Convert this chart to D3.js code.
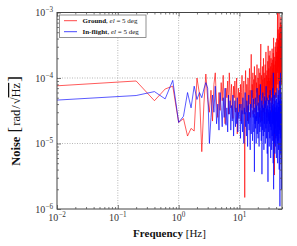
<!DOCTYPE html>
<html>
<head>
<meta charset="utf-8">
<script src="https://cdn.jsdelivr.net/npm/d3@7"></script>
<style>
  body { margin: 0; background: #fff; }
  text { font-family: "Liberation Serif", "DejaVu Serif", serif; }
</style>
</head>
<body>
<div id="chart"></div>
<script>
// PSD bins: first bin near 0.01 Hz, then every 0.2 Hz up to 50 Hz
const firstFreq = 0.01;
const freqStep = 0.2;

// Noise in units of 1e-5 rad/sqrt(Hz)
const ground = [
  7.6, 9.0, 4.5, 6.8, 7.5, 2.1, 2.4, 1.3, 1.7, 1.55,
  10, 5.7, 0.75, 4.0, 11.5, 4.7, 3.0, 6.5, 2.2, 8.0,
  12, 4.0, 2.5, 6.0, 3.2, 8.5, 4.5, 11, 3.5, 2.0,
  7.0, 5.0, 9.0, 2.8, 12, 6.0, 3.5, 8.0, 4.5, 2.4,
  7.5, 5.0, 9.0, 3.0, 6.5, 10, 1.4, 4.5, 7.0, 3.0,
  6.0,
  3.5, 8, 2.2, 6, 11, 4, 2.8, 7, 9, 3,
  0.15, 5, 13, 6, 3, 8, 4.5, 2.2, 10, 5.5,
  3.2, 7.5, 14, 4, 6.5, 2.5, 9, 23, 6, 3.5,
  8, 5, 12, 2.8, 6, 9.5, 4, 15, 5.5, 3,
  7, 11, 4.2, 2.4, 8.5, 6, 16, 3.8, 7, 5,
  10, 3.2, 6.5, 14, 4.5, 8, 2.5, 12, 5.5, 9,
  18, 33, 7, 3.5, 11, 6, 2.2, 8.5, 15, 5,
  9.5, 3, 7, 20, 6, 4, 12, 8, 2.8, 10,
  5.5, 16, 7, 3.5, 9, 25, 6, 4, 11, 7.5,
  2.5, 13, 6, 9, 4.5, 18, 8, 31, 5, 10,
  4, 14, 7, 22, 5, 9, 3.5, 12, 26, 6,
  10, 4.5, 15, 8, 20, 5.5, 11, 3, 9, 17,
  7, 28, 6, 12, 4, 19, 9, 14, 5, 24,
  8, 41, 10, 6, 16, 4.5, 12, 0.33, 9, 21,
  7, 13, 30, 5, 11, 18, 8, 35, 6.5, 14,
  9, 25, 5, 16, 40, 10, 7, 22, 13, 45,
  98, 12, 30, 8, 18, 55, 11, 4, 26, 15,
  38, 9, 100, 20, 12, 48, 7, 28, 16, 60,
  10, 35, 5, 22, 70, 14, 30, 9, 45, 85,
  18, 12, 50, 25, 8, 40, 65, 15, 30, 47
];

const inflight = [
  4.6, 5.4, 6.2, 4.8, 9.2, 2.1, 2.6, 6.0, 3.5, 7.5,
  4.7, 6.0, 5.0, 6.8, 8.5, 7.0, 1.0, 2.5, 5.5, 3.0,
  7.5, 2.0, 4.0, 1.6, 6.0, 3.5, 1.8, 5.0, 2.5, 7.0,
  1.9, 3.5, 1.5, 5.5, 2.8, 4.5, 1.6, 3.8, 2.2, 5.5,
  1.3, 3.0, 4.5, 1.8, 3.5, 2.0, 5.0, 1.5, 3.0, 2.4,
  4.0,
  2.5, 1.2, 4, 2, 3.2, 1.5, 5, 2.2, 1.0, 3.5,
  2.8, 6, 1.8, 3, 1.3, 4.5, 2.4, 0.9, 3.8, 2,
  5.5, 1.6, 3, 2.2, 0.8, 4, 2.6, 1.4, 3.5, 6.5,
  2, 1.1, 3.2, 2.5, 4.8, 1.5, 2.8, 0.37, 3.5, 2,
  5, 1.7, 2.6, 1, 3.8, 2.2, 7, 1.4, 3, 2.4,
  1.2, 4.2, 2, 3, 0.9, 5.5, 2.5, 1.5, 3.5, 2.1,
  8, 1.8, 3.2, 1.1, 2.7, 4.5, 0.34, 2.4, 3.8, 1.6,
  6, 2.2, 1.3, 3.5, 2.6, 0.8, 4, 2, 5.2, 1.5,
  3, 2.3, 1, 4.5, 2.8, 1.7, 7.5, 2.4, 1.2, 3.4,
  2, 5, 0.7, 2.9, 3.8, 1.4, 0.26, 3.3, 2.2, 4.6,
  1.5, 3, 2.4, 0.9, 5.5, 2, 3.6, 1.2, 2.8, 6.5,
  1.8, 3.2, 0.6, 2.5, 4.2, 1.6, 3, 2.2, 0.8, 5,
  2.6, 1.3, 3.8, 2, 7, 1.1, 3.4, 2.4, 0.5, 12,
  2.8, 0.2, 4, 1.9, 3.2, 1, 5.5, 2.3, 1.4, 3.6,
  0.7, 2.8, 4.5, 1.7, 3, 0.9, 6, 2.5, 1.2, 3.5,
  2, 0.6, 4.8, 2.4, 1.3, 3.8, 2.2, 7, 1, 3,
  2.6, 0.5, 4.2, 1.8, 3.3, 1.1, 5.5, 2.4, 0.8, 3.6,
  2, 6.5, 1.4, 3, 0.4, 4.5, 2.2, 1.6, 9, 2.8,
  0.11, 3.5, 1.9, 5, 1.2, 12, 2.6, 0.7, 4, 2.2,
  1.5, 6, 0.5, 3.2, 0.2, 4.5, 1.8, 3, 0.9, 2.5
];

const freqs = [firstFreq].concat(
  d3.range(1, ground.length).map((i) => +(i * freqStep).toFixed(1))
);

const xTickExps = [-2, -1, 0, 1];
const yTickExps = [-6, -5, -4, -3];

const seriesInfo = [
  { name: "Ground", values: ground, color: "#ff0000" },
  { name: "In-flight", values: inflight, color: "#0000ff" },
];

const W = 297;
const H = 246;
const margin = { top: 12.5, right: 15, bottom: 37, left: 57 };
const width = W - margin.left - margin.right;
const height = H - margin.top - margin.bottom;
const frameColor = "#444";

const svg = d3
  .select("#chart")
  .append("svg")
  .attr("width", W)
  .attr("height", H);

const g = svg
  .append("g")
  .attr("transform", `translate(${margin.left},${margin.top})`);

const x = d3.scaleLog().domain([0.01, 50]).range([0, width]);
const y = d3.scaleLog().domain([1e-6, 1e-3]).range([height, 0]);

const majorX = xTickExps.map((e) => Math.pow(10, e));
const majorY = yTickExps.map((e) => Math.pow(10, e));
const minorX = x.ticks().filter((v) => !majorX.some((m) => Math.abs(v / m - 1) < 1e-6));
const minorY = y.ticks().filter((v) => !majorY.some((m) => Math.abs(v / m - 1) < 1e-6));

// Grid
g.selectAll(".gx")
  .data(majorX.slice(1))
  .enter()
  .append("line")
  .attr("x1", (d) => x(d))
  .attr("x2", (d) => x(d))
  .attr("y1", 0)
  .attr("y2", height)
  .attr("stroke", "#9a9a9a")
  .attr("stroke-width", 0.7)
  .attr("stroke-dasharray", "1,1.5");

g.selectAll(".gy")
  .data(majorY.slice(1, -1))
  .enter()
  .append("line")
  .attr("x1", 0)
  .attr("x2", width)
  .attr("y1", (d) => y(d))
  .attr("y2", (d) => y(d))
  .attr("stroke", "#9a9a9a")
  .attr("stroke-width", 0.7)
  .attr("stroke-dasharray", "1,1.5");

// Data lines
g.append("clipPath")
  .attr("id", "clip")
  .append("rect")
  .attr("width", width)
  .attr("height", height);

const line = d3
  .line()
  .x((d, i) => x(freqs[i]))
  .y((d) => y(d * 1e-5));

seriesInfo.forEach((s) => {
  g.append("path")
    .datum(s.values)
    .attr("clip-path", "url(#clip)")
    .attr("fill", "none")
    .attr("stroke", s.color)
    .attr("stroke-opacity", 0.72)
    .attr("stroke-width", 0.9)
    .attr("stroke-linejoin", "round")
    .attr("d", line);
});

// Ticks on all four sides, pointing inward
function tickAxis(axisFn, scale, values, size, transform) {
  const a = g
    .append("g")
    .attr("transform", transform)
    .call(axisFn(scale).tickValues(values).tickSize(-size).tickFormat(""));
  a.select(".domain").remove();
  a.selectAll("line").attr("stroke", frameColor).attr("stroke-width", 0.7);
}

tickAxis(d3.axisBottom, x, majorX, 4, `translate(0,${height})`);
tickAxis(d3.axisBottom, x, minorX, 2, `translate(0,${height})`);
tickAxis(d3.axisTop, x, majorX, 4, "translate(0,0)");
tickAxis(d3.axisTop, x, minorX, 2, "translate(0,0)");
tickAxis(d3.axisLeft, y, majorY, 4, "translate(0,0)");
tickAxis(d3.axisLeft, y, minorY, 2, "translate(0,0)");
tickAxis(d3.axisRight, y, majorY, 4, `translate(${width},0)`);
tickAxis(d3.axisRight, y, minorY, 2, `translate(${width},0)`);

// Frame
g.append("rect")
  .attr("width", width)
  .attr("height", height)
  .attr("fill", "none")
  .attr("stroke", frameColor)
  .attr("stroke-width", 1);

// Tick labels (10^n)
function powerLabel(sel, exp) {
  sel.append("tspan").text("10");
  sel
    .append("tspan")
    .attr("dy", -4)
    .attr("font-size", 7.2)
    .text(exp < 0 ? "\u2212" + -exp : exp);
}

xTickExps.forEach((e) => {
  const t = g
    .append("text")
    .attr("x", x(Math.pow(10, e)))
    .attr("y", height + 12)
    .attr("text-anchor", "middle")
    .attr("font-size", 10)
    .attr("fill", "#333");
  powerLabel(t, e);
});

yTickExps.forEach((e) => {
  const t = g
    .append("text")
    .attr("x", -4)
    .attr("y", y(Math.pow(10, e)) + 3.5)
    .attr("text-anchor", "end")
    .attr("font-size", 10)
    .attr("fill", "#333");
  powerLabel(t, e);
});

// X axis label
const xl = svg
  .append("text")
  .attr("x", margin.left + width / 2)
  .attr("y", 237)
  .attr("text-anchor", "middle")
  .attr("font-size", 11)
  .attr("fill", "#111");
xl.append("tspan").attr("font-weight", "bold").text("Frequency");
xl.append("tspan").text(" [Hz]");

// Y axis label
const yl = svg
  .append("text")
  .attr("transform", "translate(20,121) rotate(-90)")
  .attr("text-anchor", "middle")
  .attr("font-size", 12.5)
  .attr("fill", "#111");
yl.append("tspan").attr("font-weight", "bold").text("Noise");
yl.append("tspan").attr("font-size", 17).text(" [");
yl.append("tspan").attr("dx", 1).text("rad");
yl.append("tspan").attr("dx", 1).text("/");
yl.append("tspan").attr("dx", 1).text("\u221A");
yl.append("tspan").attr("text-decoration", "overline").text("Hz");
yl.append("tspan").attr("dx", 1).attr("font-size", 17).text("]");

// Legend
const legend = g.append("g").attr("transform", "translate(2.5,2.5)");
legend
  .append("rect")
  .attr("width", 86.5)
  .attr("height", 22.5)
  .attr("fill", "#fff")
  .attr("stroke", "#777")
  .attr("stroke-width", 0.8);

seriesInfo.forEach((s, i) => {
  const row = legend.append("g").attr("transform", `translate(0,${5.7 + i * 11})`);
  row
    .append("line")
    .attr("x1", 4.5)
    .attr("x2", 17.5)
    .attr("stroke", s.color)
    .attr("stroke-opacity", 0.72)
    .attr("stroke-width", 1);
  const t = row
    .append("text")
    .attr("x", 23)
    .attr("y", 2.4)
    .attr("font-size", 7)
    .attr("fill", "#111");
  t.append("tspan").attr("font-weight", "bold").text(s.name);
  t.append("tspan").text(", ");
  t.append("tspan").attr("font-style", "italic").text("el");
  t.append("tspan").text(" = 5 deg");
});
</script>
</body>
</html>
